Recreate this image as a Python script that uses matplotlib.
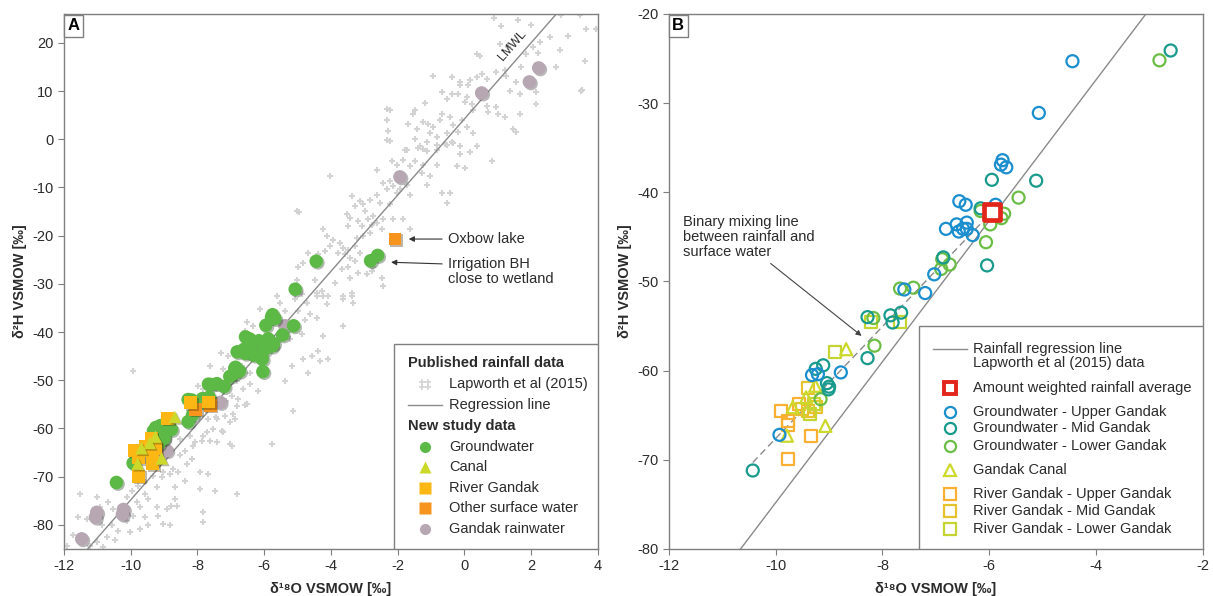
import matplotlib.pyplot as plt
import numpy as np
from matplotlib.patches import Rectangle
import matplotlib.patheffects as pe

plt.rcParams['font.family'] = ['Liberation Sans', 'DejaVu Sans']
plt.rcParams['axes.unicode_minus'] = False

# Lapworth et al (2015) rainfall (d18O, d2H)
lapworth = [
    (0.88, 25.2), (1.61, 24.8), (2.01, 23.8), (1.11, 23.6), (2.91, 25.7), (3.46, 25.7), (3.66, 22.9),
    (3.96, 22.9), (2.56, 21.2), (3.11, 21.5), (2.26, 20.1), (2.06, 19.1), (2.86, 18.5), (1.06, 19.8),
    (1.31, 19.1), (0.37, 17.7), (0.47, 17.2), (1.86, 17.6), (2.21, 17.9), (1.71, 15.0), (2.76, 15.0),
    (3.61, 16.3), (-0.93, 13.2), (-0.38, 12.9), (-0.13, 11.9), (0.17, 12.2), (0.37, 12.9), (0.52, 13.6),
    (0.67, 12.5), (-0.13, 11.2), (0.12, 11.2), (0.96, 13.9), (1.21, 14.3), (1.26, 13.2), (1.56, 11.9),
    (1.36, 10.1), (1.66, 9.4), (2.16, 9.8), (2.16, 7.4), (3.51, 10.0), (-0.68, 9.8), (-0.38, 9.4),
    (-0.18, 9.4), (-0.53, 8.4), (0.07, 8.7), (0.02, 7.7), (0.22, 7.4), (0.27, 6.0), (0.67, 7.0),
    (0.72, 5.6), (0.96, 6.7), (1.01, 5.3), (1.21, 4.6), (1.66, 5.3), (1.46, 2.2), (1.56, 1.5),
    (-1.18, 7.5), (-1.48, 6.0), (-1.53, 5.3), (-2.33, 6.3), (-2.23, 6.0), (-2.33, 3.9), (-2.28, 1.8),
    (-1.68, 3.2), (-1.23, 3.6), (-1.08, 3.2), (-0.93, 2.5), (-0.68, 5.3), (-0.73, 3.9), (-0.43, 4.6),
    (-0.33, 2.9), (-0.08, 3.9), (-0.18, 1.5), (0.07, 2.5), (-1.03, 1.2), (-0.83, 0.5), (-0.53, 1.2),
    (-1.43, 2.2), (-1.48, 0.1), (-1.13, -0.6), (-1.33, -1.3), (-0.58, -0.9), (-0.38, -0.6), (-0.13, -1.3),
    (0.27, 1.2), (0.37, -1.3), (0.17, -2.6), (-2.33, -0.2), (-1.73, -2.3), (-1.23, -2.0), (-0.83, -2.3),
    (-0.13, -3.0), (0.83, -4.6), (3.52, 10.3),
    (-2.23, -0.4), (-1.78, -2.2), (-1.38, -1.8), (-1.13, -2.5), (-0.83, -1.1), (-0.53, -1.1), (-0.33, -0.8),
    (-2.18, -4.6), (-2.03, -5.3), (-1.83, -4.2), (-1.63, -5.6), (-1.48, -4.6), (-1.23, -5.3), (-0.83, -5.3),
    (-1.28, -7.0), (-1.03, -7.7), (-0.23, -5.6), (0.02, -5.9), (-2.63, -6.3), (-2.43, -9.1), (-2.23, -8.7),
    (-2.33, -10.4), (-2.13, -9.7), (-2.03, -11.1), (-1.93, -10.4), (-1.73, -9.4), (-1.63, -11.5),
    (-1.13, -9.4), (-0.68, -11.1), (-0.43, -11.1), (-0.53, -13.2), (-4.03, -7.7), (-3.38, -11.8),
    (-3.13, -12.8), (-3.28, -13.9), (-3.03, -13.5), (-2.83, -12.5), (-2.63, -11.5), (-2.53, -13.2),
    (-2.23, -13.5), (-2.98, -14.9), (-2.73, -16.0), (-2.88, -16.6), (-3.18, -17.0), (-3.43, -16.3),
    (-3.53, -15.6), (-3.48, -18.0), (-3.08, -18.0), (-2.78, -17.7), (-2.63, -17.3), (-2.43, -16.6),
    (-2.48, -18.7), (-2.13, -16.6), (-1.83, -16.6), (-1.63, -18.7), (-5.03, -14.9), (-4.23, -18.7),
    (-4.13, -20.1), (-3.93, -20.8), (-3.73, -21.5), (-3.63, -22.5), (-3.48, -22.9), (-3.28, -22.2),
    (-3.23, -20.4), (-3.03, -20.1), (-2.83, -19.4), (-3.78, -23.5), (-3.58, -23.9), (-3.43, -24.6),
    (-3.28, -25.3), (-3.13, -23.5), (-4.03, -22.2), (-4.18, -23.2), (-4.38, -23.9), (-4.68, -23.5),
    (-4.83, -25.6), (-4.98, -26.6), (-3.68, -27.0), (-3.48, -26.6), (-3.18, -27.7), (-3.43, -28.7),
    (-2.93, -28.0), (-2.73, -26.6), (-2.78, -27.3), (-2.48, -28.7), (-2.43, -30.4), (-4.48, -29.1),
    (-4.28, -31.5), (-3.88, -29.8), (-3.38, -31.8), (-3.63, -32.5), (-4.08, -32.5), (-4.43, -32.5),
    (-5.03, -29.1), (-4.96, -15.0),
    (-5.63, -32.5), (-5.53, -33.9), (-5.08, -33.2), (-4.88, -32.2), (-4.73, -33.9), (-4.43, -31.8),
    (-4.23, -32.5), (-4.13, -34.2), (-3.63, -33.2), (-3.38, -32.5), (-3.33, -33.9), (-6.13, -35.3),
    (-5.73, -36.3), (-5.38, -35.6), (-4.98, -35.6), (-4.63, -36.3), (-4.78, -37.4), (-4.43, -37.0),
    (-6.53, -38.0), (-6.33, -38.7), (-6.58, -39.8), (-4.88, -40.5), (-4.23, -40.8), (-3.63, -38.7),
    (-5.23, -41.5), (-5.73, -41.5), (-4.58, -44.9), (-4.38, -43.9), (-4.08, -45.6), (-4.33, -46.0),
    (-4.83, -45.6), (-5.18, -47.0), (-4.68, -48.4), (-5.38, -50.1), (-7.28, -44.3), (-7.08, -45.0),
    (-7.63, -47.0), (-7.23, -47.7), (-6.68, -47.0), (-6.43, -48.4), (-6.83, -50.1), (-6.63, -51.8),
    (-6.43, -50.8), (-6.18, -52.2), (-6.98, -53.2), (-7.13, -54.3), (-6.78, -53.9), (-6.53, -54.9),
    (-6.83, -55.3), (-7.98, -51.2), (-7.83, -51.8), (-7.73, -55.3), (-7.93, -57.4), (-7.68, -58.1),
    (-7.43, -57.7), (-7.18, -57.4), (-6.93, -57.0), (-7.53, -60.1), (-7.23, -60.8), (-7.83, -61.5),
    (-8.08, -62.9), (-7.63, -62.5), (-7.03, -63.2), (-5.78, -63.2), (-5.13, -56.3), (-8.52, -62.2),
    (-8.22, -61.5), (-9.93, -48.1),
    (-7.92, -57.7), (-7.42, -58.1), (-7.02, -58.7), (-6.88, -58.1), (-6.58, -55.2), (-7.27, -60.5),
    (-7.72, -60.8), (-7.42, -62.9), (-6.98, -63.6), (-7.87, -62.5), (-8.12, -63.6), (-8.37, -64.6),
    (-8.52, -65.6), (-8.17, -66.3), (-8.32, -67.4), (-8.72, -68.4), (-9.02, -69.1), (-8.82, -69.4),
    (-8.57, -69.1), (-7.92, -69.1), (-7.67, -69.4), (-8.37, -70.8), (-8.67, -72.2), (-9.07, -70.1),
    (-9.32, -69.8), (-9.57, -71.2), (-9.77, -71.9), (-9.97, -72.9), (-9.57, -73.6), (-9.22, -72.2),
    (-10.12, -74.3), (-9.82, -75.3), (-9.47, -74.6), (-9.72, -76.3), (-9.22, -76.3), (-8.92, -76.7),
    (-8.62, -76.0), (-8.67, -74.6), (-9.17, -78.1), (-9.57, -78.4), (-9.92, -78.1), (-10.12, -79.1),
    (-10.32, -78.1), (-10.52, -76.7), (-10.67, -75.3), (-10.92, -76.3), (-11.02, -74.3), (-11.52, -73.6),
    (-10.57, -80.1), (-10.87, -80.1), (-10.37, -81.2), (-10.02, -81.5), (-9.72, -80.8), (-9.47, -80.1),
    (-9.02, -79.8), (-8.82, -80.1), (-7.82, -77.4), (-7.82, -79.4), (-7.47, -72.9), (-6.83, -73.6),
    (-7.92, -72.5), (-11.02, -83.6), (-10.72, -82.5), (-10.47, -83.2), (-10.82, -84.6), (-11.22, -84.3),
    (-11.72, -82.2), (-11.57, -78.4), (-11.32, -78.8), (-11.92, -84.3), (-8.79, -76.1),
]
lap_o = np.array([p[0] for p in lapworth])
lap_h = np.array([p[1] for p in lapworth])

lmwl_slope, lmwl_int = 7.9, 4.2

# Groundwater
gw_up_o = [-4.44, -5.07, -5.75, -5.78, -5.68, -6.56, -6.44, -5.88, -6.61, -6.42, -6.81, -6.57, -6.49,
           -6.42, -6.31, -7.03, -7.59, -7.20, -8.78, -9.32, -9.21, -9.93]
gw_up_h = [-25.3, -31.1, -36.4, -36.9, -37.2, -41.0, -41.4, -41.4, -43.6, -43.4, -44.1, -44.4, -44.1,
           -44.1, -44.8, -49.2, -50.9, -51.3, -60.2, -60.5, -60.4, -67.2]
gw_mid_o = [-2.60, -5.95, -5.12, -6.16, -6.04, -6.86, -8.28, -7.85, -7.81, -7.65, -8.28, -9.11, -9.25,
            -9.04, -9.00, -9.01, -10.43]
gw_mid_h = [-24.1, -38.6, -38.7, -41.8, -48.2, -47.3, -54.0, -53.8, -54.6, -53.5, -58.6, -59.4, -59.8,
            -61.4, -61.8, -62.1, -71.2]
gw_low_o = [-2.81, -5.45, -6.16, -5.72, -5.77, -5.98, -6.06, -6.88, -6.74, -6.90, -7.67, -7.42, -8.17,
            -8.15, -9.16]
gw_low_h = [-25.2, -40.6, -42.1, -42.4, -42.9, -43.6, -45.6, -47.5, -48.1, -48.6, -50.8, -50.7, -54.1,
            -57.2, -63.2]

# Gandak canal
canal_o = [-8.68, -9.26, -9.43, -9.68, -9.79, -9.07]
canal_h = [-57.6, -61.7, -63.0, -64.1, -67.3, -66.2]

# River Gandak
riv_up_o = [-9.90, -9.77, -9.77, -9.77, -9.34, -9.57]
riv_up_h = [-64.5, -65.6, -66.1, -69.9, -67.3, -63.7]
riv_mid_o = [-9.39, -9.50, -9.39, -9.25]
riv_mid_h = [-62.0, -64.3, -64.5, -64.1]
riv_low_o = [-8.89, -9.29, -9.36, -8.21, -7.67]
riv_low_h = [-57.9, -63.7, -64.9, -54.6, -54.5]

# Other surface water and rainwater (panel A)
other_o = [-2.08, -8.05, -7.62]
other_h = [-20.7, -56.0, -55.2]
rain_o = [2.23, 1.95, 0.52, -1.93, -5.38, -7.32, -8.92, -10.22, -10.25, -11.02, -11.06, -11.47]
rain_h = [14.8, 11.9, 9.6, -7.8, -38.7, -54.6, -64.6, -76.8, -77.8, -77.4, -78.4, -82.9]

# Amount weighted rainfall average and mixing line
avg_o, avg_h = [-5.95], [-42.2]
mix_o = [-10.43, -5.95]
mix_h = [-70.3, -42.2]

grey = '#7f7f7f'
txt = '#2b2b2b'
c_cross = '#d3d3d3'
c_gw = '#5cb946'
c_canal = '#cdd92a'
c_river = '#fdb714'
c_other = '#f7941d'
c_rain = '#b7a7b3'
c_up, c_mid, c_low = '#1a8ece', '#189a8c', '#6bbd45'
c_rup, c_rmid, c_rlow = '#fbb033', '#e6c22c', '#c5d431'

fig = plt.figure(figsize=(12.13, 5.96), dpi=100)
axA = fig.add_axes([0.0528, 0.0789, 0.440, 0.8977])
axB = fig.add_axes([0.5515, 0.0789, 0.4400, 0.8977])


def style(ax):
    for s in ax.spines.values():
        s.set_color(grey)
        s.set_linewidth(1.0)
    ax.tick_params(direction='out', length=4, color=grey, labelsize=10.5, labelcolor=txt)
    ax.set_xlabel('δ¹⁸O VSMOW [‰]', fontweight='bold', fontsize=10.5, color=txt, labelpad=6)
    ax.set_ylabel('δ²H VSMOW [‰]', fontweight='bold', fontsize=10.5, color=txt, labelpad=4)


# ---------------- Panel A ----------------
shadow = [pe.SimplePatchShadow(offset=(1.2, -1.2), alpha=0.35), pe.Normal()]
axA.scatter(lap_o, lap_h, marker='+', s=24, linewidths=1.5, color=c_cross, zorder=1)
xx = np.array([-13, 5])
axA.plot(xx, lmwl_slope * xx + lmwl_int, color='#8a8a8a', lw=1.0, zorder=2)
axA.scatter(rain_o, rain_h, s=95, color=c_rain, zorder=3, path_effects=shadow, linewidths=0)
axA.scatter(gw_up_o + gw_mid_o + gw_low_o, gw_up_h + gw_mid_h + gw_low_h, s=95, color=c_gw,
            zorder=4, path_effects=shadow, linewidths=0)
axA.scatter(other_o, other_h, s=85, marker='s', color=c_other, zorder=4, path_effects=shadow, linewidths=0)
axA.scatter(riv_up_o + riv_mid_o + riv_low_o, riv_up_h + riv_mid_h + riv_low_h, s=85, marker='s',
            color=c_river, zorder=4, path_effects=shadow, linewidths=0)
axA.scatter(canal_o, canal_h, s=80, marker='^', color=c_canal, zorder=5, path_effects=shadow, linewidths=0)

axA.set_xlim(-12, 4)
axA.set_ylim(-85, 26)
axA.set_xticks(np.arange(-12, 5, 2))
axA.set_yticks(np.arange(-80, 21, 10))
style(axA)

axA.text(1.45, 19.4, 'LMWL', rotation=49, fontsize=9, color=txt, ha='center', va='center')
axA.annotate('Oxbow lake', xy=(-1.75, -20.7), xytext=(-0.5, -20.7), fontsize=10.5, color=txt,
             va='center', arrowprops=dict(arrowstyle='-|>', color='#333333', lw=0.8, mutation_scale=8))
axA.annotate('Irrigation BH\nclose to wetland', xy=(-2.28, -25.5), xytext=(-0.5, -27.4), fontsize=10.5,
             color=txt, va='center', linespacing=1.1,
             arrowprops=dict(arrowstyle='-|>', color='#333333', lw=0.8, mutation_scale=8,
                             relpos=(0, 0.75)))
axA.text(0.006, 0.992, 'A', transform=axA.transAxes, fontsize=12, fontweight='bold', va='top', ha='left',
         bbox=dict(boxstyle='square,pad=0.2', fc='white', ec=grey, lw=1))

# legend A (drawn in axes fraction)
tA = axA.transAxes
axA.add_patch(Rectangle((0.618, 0.0), 0.382, 0.383, transform=tA, fc='white', ec=grey, lw=1, zorder=6))
axA.text(0.644, 0.348, 'Published rainfall data', transform=tA, fontsize=10.5, fontweight='bold',
         va='center', color=txt, zorder=7)
for dx, dy in [(-0.006, 0.004), (0.006, 0.004), (-0.006, -0.006), (0.006, -0.006)]:
    axA.plot([0.676 + dx], [0.308 + dy], marker='+', ms=5, mew=1.2, color=c_cross, transform=tA,
             zorder=7, clip_on=False)
axA.text(0.721, 0.308, 'Lapworth et al (2015)', transform=tA, fontsize=10.5, va='center', color=txt, zorder=7)
axA.plot([0.644, 0.708], [0.269, 0.269], color='#8a8a8a', lw=1, transform=tA, zorder=7)
axA.text(0.721, 0.269, 'Regression line', transform=tA, fontsize=10.5, va='center', color=txt, zorder=7)
axA.text(0.644, 0.230, 'New study data', transform=tA, fontsize=10.5, fontweight='bold', va='center',
         color=txt, zorder=7)
legA = [('o', c_gw, 'Groundwater', 0.191), ('^', c_canal, 'Canal', 0.153), ('s', c_river, 'River Gandak', 0.114),
        ('s', c_other, 'Other surface water', 0.077), ('o', c_rain, 'Gandak rainwater', 0.037)]
for m, c, lab, y in legA:
    axA.plot([0.676], [y], marker=m, ms=8 if m != '^' else 8.5, color=c, mec='none', transform=tA, zorder=7)
    axA.text(0.721, y, lab, transform=tA, fontsize=10.5, va='center', color=txt, zorder=7)

# ---------------- Panel B ----------------
xb = np.array([-13, 0])
axB.plot(xb, lmwl_slope * xb + lmwl_int, color='#8a8a8a', lw=1.0, zorder=1)
axB.plot(mix_o, mix_h, color='#8a8a8a', lw=1.0, ls=(0, (5, 3)), zorder=1)

open_kw = dict(facecolors='none', s=75, linewidths=1.6, zorder=3)
axB.scatter(riv_up_o, riv_up_h, marker='s', edgecolors=c_rup, **open_kw)
axB.scatter(riv_mid_o, riv_mid_h, marker='s', edgecolors=c_rmid, **open_kw)
axB.scatter(riv_low_o, riv_low_h, marker='s', edgecolors=c_rlow, **open_kw)
axB.scatter(canal_o, canal_h, marker='^', edgecolors=c_canal, **open_kw)
axB.scatter(gw_low_o, gw_low_h, marker='o', edgecolors=c_low, **open_kw)
axB.scatter(gw_mid_o, gw_mid_h, marker='o', edgecolors=c_mid, **open_kw)
axB.scatter(gw_up_o, gw_up_h, marker='o', edgecolors=c_up, **open_kw)
axB.scatter(avg_o, avg_h, marker='s', s=120, facecolors='white', edgecolors='#e3261c', linewidths=3.4, zorder=5)

axB.set_xlim(-12, -2)
axB.set_ylim(-80, -20)
axB.set_xticks(np.arange(-12, -1, 2))
axB.set_yticks(np.arange(-80, -19, 10))
style(axB)

axB.annotate('Binary mixing line\nbetween rainfall and\nsurface water', xy=(-8.35, -56.3), xytext=(-11.73, -45.0),
             fontsize=10.5, color=txt, va='center', ha='left', linespacing=1.1,
             arrowprops=dict(arrowstyle='-|>', color='#444444', lw=0.8, mutation_scale=8, relpos=(0.62, 0.0)))
axB.text(0.006, 0.992, 'B', transform=axB.transAxes, fontsize=12, fontweight='bold', va='top', ha='left',
         bbox=dict(boxstyle='square,pad=0.2', fc='white', ec=grey, lw=1))

tB = axB.transAxes
axB.add_patch(Rectangle((0.469, 0.0), 0.531, 0.417, transform=tB, fc='white', ec=grey, lw=1, zorder=6))
axB.plot([0.494, 0.559], [0.374, 0.374], color='#8a8a8a', lw=1, transform=tB, zorder=7)
axB.text(0.570, 0.361, 'Rainfall regression line\nLapworth et al (2015) data', transform=tB, fontsize=10.5,
         va='center', color=txt, zorder=7, linespacing=1.0)
axB.plot([0.526], [0.301], marker='s', ms=8.5, mfc='white', mec='#e3261c', mew=2.8, transform=tB, zorder=7)
axB.text(0.570, 0.301, 'Amount weighted rainfall average', transform=tB, fontsize=10.5, va='center',
         color=txt, zorder=7)
legB = [('o', c_up, 'Groundwater - Upper Gandak', 0.256), ('o', c_mid, 'Groundwater - Mid Gandak', 0.226),
        ('o', c_low, 'Groundwater - Lower Gandak', 0.193), ('^', c_canal, 'Gandak Canal', 0.148),
        ('s', c_rup, 'River Gandak - Upper Gandak', 0.103), ('s', c_rmid, 'River Gandak - Mid Gandak', 0.071),
        ('s', c_rlow, 'River Gandak - Lower Gandak', 0.037)]
for m, c, lab, y in legB:
    axB.plot([0.526], [y], marker=m, ms=8, mfc='none', mec=c, mew=1.6, transform=tB, zorder=7)
    axB.text(0.570, y, lab, transform=tB, fontsize=10.5, va='center', color=txt, zorder=7)

fig.savefig('out.png', dpi=100)
